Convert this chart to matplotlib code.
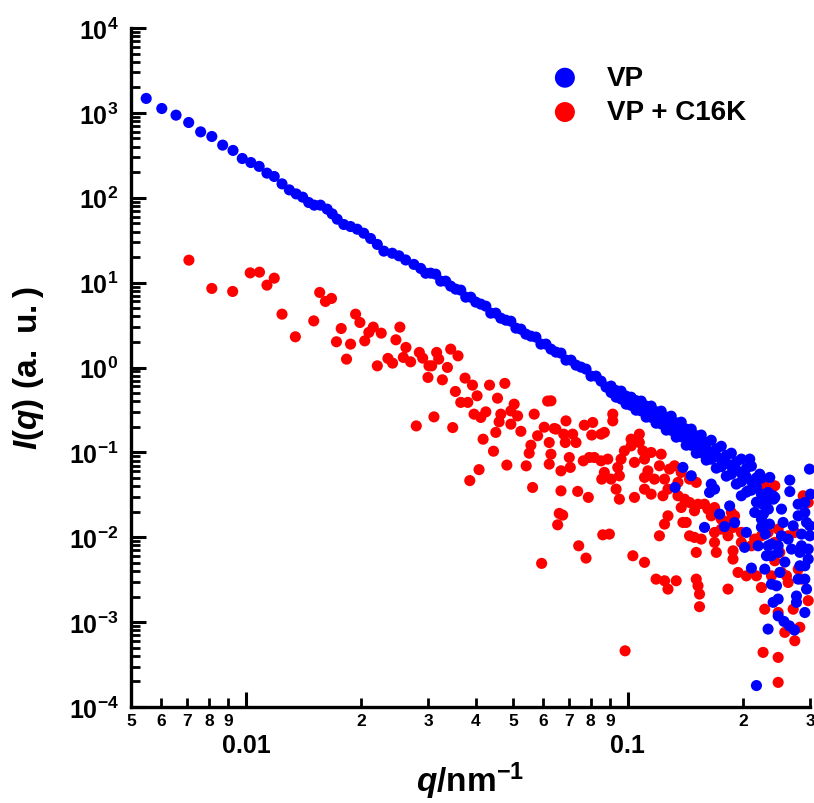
import matplotlib
matplotlib.use("Agg")
import matplotlib.pyplot as plt
from matplotlib.ticker import FixedLocator, FixedFormatter, NullFormatter

plt.rcParams['font.family'] = ['Liberation Sans', 'DejaVu Sans']
plt.rcParams['font.weight'] = 'bold'
plt.rcParams['mathtext.fontset'] = 'custom'
plt.rcParams['mathtext.rm'] = 'Liberation Sans:bold'
plt.rcParams['mathtext.bf'] = 'Liberation Sans:bold'
plt.rcParams['mathtext.it'] = 'Liberation Sans:italic:bold'
plt.rcParams['mathtext.bfit'] = 'Liberation Sans:italic:bold'
plt.rcParams['mathtext.default'] = 'bf'

# ---------------- data ----------------
vp_q = [
    0.00548, 0.00602, 0.00656, 0.00708, 0.00761, 0.00814, 0.00869, 0.00925, 0.00978, 0.0103,
    0.01083, 0.01135, 0.01186, 0.01243, 0.01299, 0.01354, 0.01408, 0.0146, 0.0151, 0.01567,
    0.01632, 0.01682, 0.01734, 0.01804, 0.01879, 0.01956, 0.02035, 0.0212, 0.02208, 0.02297,
    0.02416, 0.02516, 0.0262, 0.02753, 0.02868, 0.02957,
    0.03046, 0.0314, 0.03236, 0.03335, 0.03437, 0.03543, 0.03652, 0.03764, 0.03879, 0.03998,
    0.04121, 0.04248, 0.04377, 0.04511, 0.0465, 0.04793, 0.0494, 0.05092, 0.05248, 0.05409,
    0.05575, 0.05746, 0.05922, 0.06104, 0.06291, 0.06484, 0.06683, 0.06888, 0.07099, 0.07317,
    0.07541, 0.07773, 0.08011, 0.08257, 0.0851,
    0.08771, 0.0904, 0.09318, 0.09603, 0.09898, 0.1020, 0.1051, 0.1084, 0.1117, 0.1151,
    0.1186, 0.1223, 0.1261, 0.1299, 0.1339, 0.1380, 0.1422, 0.1466, 0.1511, 0.1557,
    0.1605, 0.1654, 0.1705, 0.1757, 0.1811, 0.1867, 0.1924, 0.1983, 0.2044, 0.2107,
    0.2172, 0.2238, 0.2307,
    0.0904, 0.09603, 0.1020, 0.1084, 0.1151, 0.1223, 0.1299, 0.1380, 0.1466, 0.1557,
    0.1654, 0.1757, 0.1867, 0.1983, 0.2107, 0.2238,
    0.09318, 0.09898, 0.1051, 0.1117, 0.1186, 0.1261, 0.1339, 0.1422, 0.1511, 0.1605,
    0.1705, 0.1811, 0.1924, 0.2044, 0.2172,
    0.09318, 0.09898, 0.1051, 0.1117, 0.1186, 0.1261, 0.1339, 0.1422, 0.1511, 0.1605,
    0.1705, 0.1811, 0.1924, 0.2044, 0.2172,
    0.0904, 0.09603, 0.1020, 0.1084, 0.1151, 0.1223, 0.1299, 0.1380, 0.1466, 0.1557,
    0.1654, 0.1757, 0.1867, 0.1983, 0.2107, 0.2238,
    0.2265, 0.2350, 0.2292, 0.2378, 0.2238, 0.2334, 0.2407,
    0.1588, 0.1330, 0.1394, 0.1466, 0.1654, 0.1637, 0.1687, 0.1739, 0.1848, 0.1983,
    0.2065, 0.1792, 0.1904, 0.2023, 0.2044, 0.2107, 0.2172, 0.2330, 0.2402, 0.2476,
    0.2564, 0.2651, 0.2732, 0.2908, 0.2765, 0.2793, 0.2908, 0.2997, 0.2938, 0.2908,
    0.2793, 0.2656, 0.2656, 0.2354, 0.2216, 0.2086, 0.2402, 0.2526, 0.2378, 0.2476,
    0.2284, 0.2378, 0.2578, 0.2683, 0.2850, 0.2822, 0.2968, 0.2997, 0.2908, 0.2793,
    0.2710, 0.2551, 0.2526, 0.2630, 0.2850, 0.2968, 0.2822, 0.2908, 0.2938, 0.2765,
    0.2451, 0.2476, 0.2330, 0.2427, 0.2307, 0.2476, 0.2501, 0.2150, 0.2238, 0.2330,
    0.2194, 0.2991, 0.3009,
]
vp_I = [
    1480, 1126, 940, 770, 597, 527, 417, 361, 290, 260,
    234, 195, 178, 145.8, 123.8, 111, 101.6, 87.9, 81.8, 81.8,
    73.4, 64.6, 55.9, 48.4, 45.8, 42.6, 38.2, 33.1, 28.2, 23.5,
    22.2, 20.7, 18.5, 16.4, 14.7, 12.9,
    12.93, 12.58, 10.41, 10.41, 9.09, 8.38, 8.16, 6.74, 6.74, 5.89,
    5.58, 5.28, 4.37, 4.37, 3.81, 3.61, 3.51, 2.91, 2.83, 2.47,
    2.34, 2.28, 1.886, 1.886, 1.646, 1.517, 1.477, 1.221, 1.221, 1.066,
    1.010, 0.957, 0.791, 0.791, 0.691,
    0.588, 0.541, 0.499, 0.460, 0.424, 0.391, 0.370, 0.341, 0.314, 0.290,
    0.267, 0.246, 0.227, 0.209, 0.193, 0.178, 0.160, 0.143, 0.132, 0.118,
    0.109, 0.1005, 0.0901, 0.0833, 0.0747, 0.0689, 0.0618, 0.0570, 0.0511, 0.0458,
    0.0390, 0.0322, 0.0259,
    0.604, 0.527, 0.447, 0.402, 0.351, 0.306, 0.267, 0.227, 0.188, 0.160,
    0.139, 0.118, 0.0978, 0.0833, 0.0689, 0.0497,
    0.447, 0.370, 0.314, 0.260, 0.2207, 0.183, 0.151, 0.1215, 0.0978, 0.0811,
    0.0652, 0.0525, 0.0423, 0.0340, 0.0259,
    0.534, 0.460, 0.407, 0.351, 0.301, 0.260, 0.223, 0.188, 0.157, 0.131,
    0.110, 0.0921, 0.0774, 0.0649, 0.0500,
    0.508, 0.426, 0.358, 0.308, 0.259, 0.2165, 0.182, 0.153, 0.1212, 0.0989,
    0.0831, 0.0678, 0.0554, 0.0452, 0.0359, 0.0249,
    0.01873, 0.01428, 0.01089, 0.00830, 0.01316, 0.02145, 0.0281,
    0.01306, 0.0386, 0.0665, 0.0530, 0.0423, 0.0337, 0.0369, 0.01873, 0.0234, 0.0308,
    0.0352, 0.01334, 0.01486, 0.00760, 0.01140, 0.00433, 0.000179, 0.000828, 0.00171, 0.001184,
    0.001019, 0.000902, 0.000806, 0.001298, 0.00203, 0.00321, 0.00461, 0.0104, 0.01494, 0.0257,
    0.0245, 0.0471, 0.0345, 0.0507, 0.0554, 0.0833, 0.0308, 0.02145, 0.00605, 0.00793,
    0.00421, 0.00280, 0.00510, 0.00725, 0.01089, 0.00663, 0.00553, 0.01364, 0.0196, 0.0179,
    0.01364, 0.01494, 0.0104, 0.00951, 0.00793, 0.00725, 0.00461, 0.00321, 0.00245, 0.00171,
    0.00268, 0.00187, 0.0337, 0.0294, 0.00605, 0.00663, 0.00385, 0.0196, 0.01635, 0.00793,
    0.00793, 0.0635, 0.0322,
]

c16k_q = [
    0.00709, 0.00814, 0.00923, 0.01026, 0.01085, 0.01135, 0.01186, 0.01243, 0.01347, 0.01505,
    0.0156, 0.01615, 0.01675, 0.01726, 0.01776, 0.01834, 0.01879, 0.01937, 0.01988, 0.02047,
    0.02098, 0.02155, 0.02261, 0.02208, 0.02354, 0.02421, 0.0247, 0.0253, 0.02624, 0.02583,
    0.02699, 0.02845, 0.02903, 0.03015, 0.02997, 0.02793, 0.03158, 0.03437, 0.03592, 0.0337,
    0.03269, 0.03107, 0.03479, 0.03064, 0.03197, 0.03748, 0.03919, 0.04344, 0.04764, 0.03536,
    0.0403, 0.04558, 0.03652, 0.0381, 0.0504, 0.0494, 0.05687, 0.06167, 0.03957, 0.04248,
    0.0465, 0.05144, 0.04602, 0.0494, 0.04511, 0.05248, 0.05805, 0.05575, 0.05518, 0.06041,
    0.06226, 0.06226, 0.04179, 0.04449, 0.04822, 0.05419, 0.04078, 0.03856, 0.05632, 0.04121,
    0.06417, 0.06888, 0.06793, 0.07172, 0.07317, 0.06859, 0.06291, 0.06683, 0.07027, 0.07069,
    0.07693, 0.08094, 0.08045, 0.0851, 0.07647, 0.07929, 0.0851, 0.08546, 0.06683, 0.07392,
    0.07881, 0.06614, 0.06752, 0.06551, 0.08598, 0.07437, 0.07773, 0.05947, 0.06291, 0.06484,
    0.09133, 0.09133, 0.08681, 0.08172, 0.08681, 0.09413, 0.1020, 0.1072, 0.1072, 0.1020,
    0.09796, 0.09603, 0.08861, 0.09505, 0.0904, 0.1095, 0.1151, 0.1106, 0.1041, 0.1223,
    0.1210, 0.1129, 0.1106, 0.1174, 0.09318, 0.09505, 0.1041, 0.1106, 0.1151, 0.1236,
    0.1274, 0.1248, 0.1353, 0.1286, 0.1325, 0.1380, 0.1451, 0.1511, 0.1353, 0.1408,
    0.1451, 0.1380, 0.1495, 0.1527, 0.1588, 0.1621, 0.1687, 0.1654, 0.1757, 0.1867,
    0.1904, 0.1847, 0.1886, 0.1757, 0.1687, 0.1830, 0.1983, 0.1983, 0.2149, 0.2107,
    0.2238, 0.2330, 0.2476, 0.2426, 0.2500, 0.2630, 0.2737, 0.2879, 0.2968, 0.2426,
    0.2283, 0.2283, 0.1274, 0.1248, 0.1394, 0.1210, 0.1557, 0.1495, 0.1511, 0.1687,
    0.1705, 0.1886, 0.1886, 0.1944, 0.2044, 0.2172, 0.2238, 0.2426, 0.2526, 0.2604,
    0.2630, 0.2794, 0.2850, 0.2968, 0.2711, 0.2283, 0.2476, 0.2577, 0.2737, 0.2821,
    0.2261, 0.2476, 0.2476, 0.09838, 0.1031, 0.1106, 0.1186, 0.1248, 0.1274, 0.1339,
    0.1511, 0.1527, 0.1541, 0.1541, 0.1830, 0.1451, 0.08948, 0.1422, 0.2378,
]
c16k_I = [
    18.4, 8.54, 7.87, 13.03, 13.28, 9.34, 11.29, 4.25, 2.30, 3.54,
    7.66, 6.00, 6.51, 2.01, 2.88, 1.255, 1.886, 4.25, 3.39, 2.06,
    2.59, 2.99, 2.54, 1.046, 1.279, 1.126, 2.12, 2.99, 1.724, 1.314,
    1.166, 1.505, 1.289, 1.046, 0.764, 0.205, 1.505, 1.646, 1.372, 1.002,
    0.716, 0.262, 0.196, 1.046, 1.255, 0.750, 0.620, 0.620, 0.650, 0.522,
    0.464, 0.435, 0.388, 0.388, 0.370, 0.308, 0.282, 0.402, 0.282, 0.300,
    0.282, 0.269, 0.229, 0.215, 0.172, 0.177, 0.157, 0.1215, 0.0978, 0.198,
    0.1307, 0.0727, 0.143, 0.1032, 0.0708, 0.0694, 0.0626, 0.0465, 0.0386, 0.258,
    0.191, 0.235, 0.164, 0.164, 0.1307, 0.1307, 0.0952, 0.0606, 0.0870, 0.0665,
    0.209, 0.225, 0.160, 0.164, 0.0795, 0.0870, 0.0795, 0.0484, 0.0352, 0.0347,
    0.0295, 0.01909, 0.01823, 0.01401, 0.01068, 0.00793, 0.00568, 0.00492, 0.405, 0.188,
    0.282, 0.235, 0.172, 0.0870, 0.0581, 0.0665, 0.143, 0.164, 0.1307, 0.1192,
    0.1041, 0.0833, 0.0833, 0.0529, 0.0484, 0.1041, 0.0997, 0.0833, 0.0762, 0.0952,
    0.0695, 0.0606, 0.0507, 0.0484, 0.0369, 0.0281, 0.0295, 0.0369, 0.0322, 0.0308,
    0.0369, 0.0484, 0.0443, 0.0635, 0.0695, 0.0581, 0.0484, 0.0443, 0.0308, 0.0281,
    0.0257, 0.0224, 0.0205, 0.0245, 0.0245, 0.02145, 0.0224, 0.01789, 0.01635, 0.01961,
    0.01789, 0.01561, 0.01305, 0.01247, 0.0114, 0.0104, 0.0114, 0.0087, 0.00951, 0.00793,
    0.0104, 0.0114, 0.01247, 0.0087, 0.00663, 0.0104, 0.0114, 0.0308, 0.0257, 0.0404,
    0.0404, 0.0322, 0.01789, 0.01428, 0.01495, 0.0104, 0.00951, 0.00996, 0.00663, 0.0087,
    0.00663, 0.00692, 0.00553, 0.00385, 0.00351, 0.00351, 0.00256, 0.00528, 0.00385, 0.00351,
    0.00293, 0.00421, 0.00321, 0.00179, 0.00142, 0.00142, 0.0013, 0.000757, 0.000603, 0.00087,
    0.00044, 0.000384, 0.000195, 0.000459, 0.00605, 0.00506, 0.00321, 0.00307, 0.00245, 0.00307,
    0.00321, 0.00268, 0.00214, 0.00152, 0.00245, 0.0104, 0.01089, 0.01495, 0.00351,
]

series_labels = ['VP', 'VP + C16K']
series_colors = ['#0000ff', '#ff0000']

x_major_ticks = [0.01, 0.1]
x_major_labels = ['0.01', '0.1']
x_minor_ticks = [0.005, 0.006, 0.007, 0.008, 0.009,
                 0.02, 0.03, 0.04, 0.05, 0.06, 0.07, 0.08, 0.09,
                 0.2, 0.3]
x_minor_labels = ['5', '6', '7', '8', '9',
                  '2', '3', '4', '5', '6', '7', '8', '9',
                  '2', '3']
y_exponents = [-4, -3, -2, -1, 0, 1, 2, 3, 4]
y_major_labels = [r'$\mathbf{10^{%d}}$' % e for e in y_exponents]

# ---------------- figure ----------------
W, H = 814, 804
fig = plt.figure(figsize=(W / 100, H / 100), dpi=100)
ax = fig.add_axes([131 / W, 1 - 708 / H, (810 - 131) / W, (708 - 29) / H])

ms = 64
ax.scatter(c16k_q, c16k_I, s=ms, color=series_colors[1], edgecolors='none',
           label=series_labels[1], zorder=2, clip_on=False)
ax.scatter(vp_q, vp_I, s=ms, color=series_colors[0], edgecolors='none',
           label=series_labels[0], zorder=3, clip_on=False)

ax.set_xscale('log')
ax.set_yscale('log')
ax.set_xlim(0.005, 0.3)
ax.set_ylim(1e-4, 1e4)

for s in ['top', 'right']:
    ax.spines[s].set_visible(False)
for s in ['left', 'bottom']:
    ax.spines[s].set_linewidth(2.4)

ax.xaxis.set_major_locator(FixedLocator(x_major_ticks))
ax.xaxis.set_major_formatter(FixedFormatter(x_major_labels))
ax.xaxis.set_minor_locator(FixedLocator(x_minor_ticks))
ax.xaxis.set_minor_formatter(FixedFormatter(x_minor_labels))

y_major = [10.0 ** e for e in y_exponents]
y_minor = [m * 10.0 ** e for e in y_exponents[:-1] for m in range(2, 10)]
ax.yaxis.set_major_locator(FixedLocator(y_major))
ax.yaxis.set_major_formatter(FixedFormatter(y_major_labels))
ax.yaxis.set_minor_locator(FixedLocator(y_minor))
ax.yaxis.set_minor_formatter(NullFormatter())

ax.tick_params(axis='both', which='major', direction='in', length=11, width=2.2)
ax.tick_params(axis='both', which='minor', direction='in', length=6.5, width=2.0)
ax.tick_params(axis='x', which='major', labelsize=18, pad=19)
ax.tick_params(axis='x', which='minor', labelsize=12.5, pad=4)
ax.tick_params(axis='y', which='major', labelsize=18, pad=9)

for lab in ax.get_xticklabels(which='both'):
    lab.set_fontweight('bold')

ax.set_xlabel(r'$\mathbfit{q}\mathbf{/nm^{-1}}$', fontsize=24)
ax.xaxis.set_label_coords(0.5, -0.077)
ax.set_ylabel(r'$\mathbfit{I}\mathbf{(}\mathbfit{q}\mathbf{)\ (a.\ u.)}$', fontsize=24)
ax.yaxis.set_label_coords(-0.125, 0.5)

handles, labels = ax.get_legend_handles_labels()
order = [1, 0]
leg = ax.legend([handles[i] for i in order], [labels[i] for i in order],
                loc='upper left', bbox_to_anchor=(551 / W, 1 - 66 / H),
                bbox_transform=fig.transFigure, frameon=False,
                borderpad=0, borderaxespad=0, handlelength=1.0,
                handletextpad=1.0, labelspacing=0.3, markerscale=1.8,
                prop={'family': 'Liberation Sans', 'weight': 'bold', 'size': 20})

fig.savefig('out.png', dpi=100)
